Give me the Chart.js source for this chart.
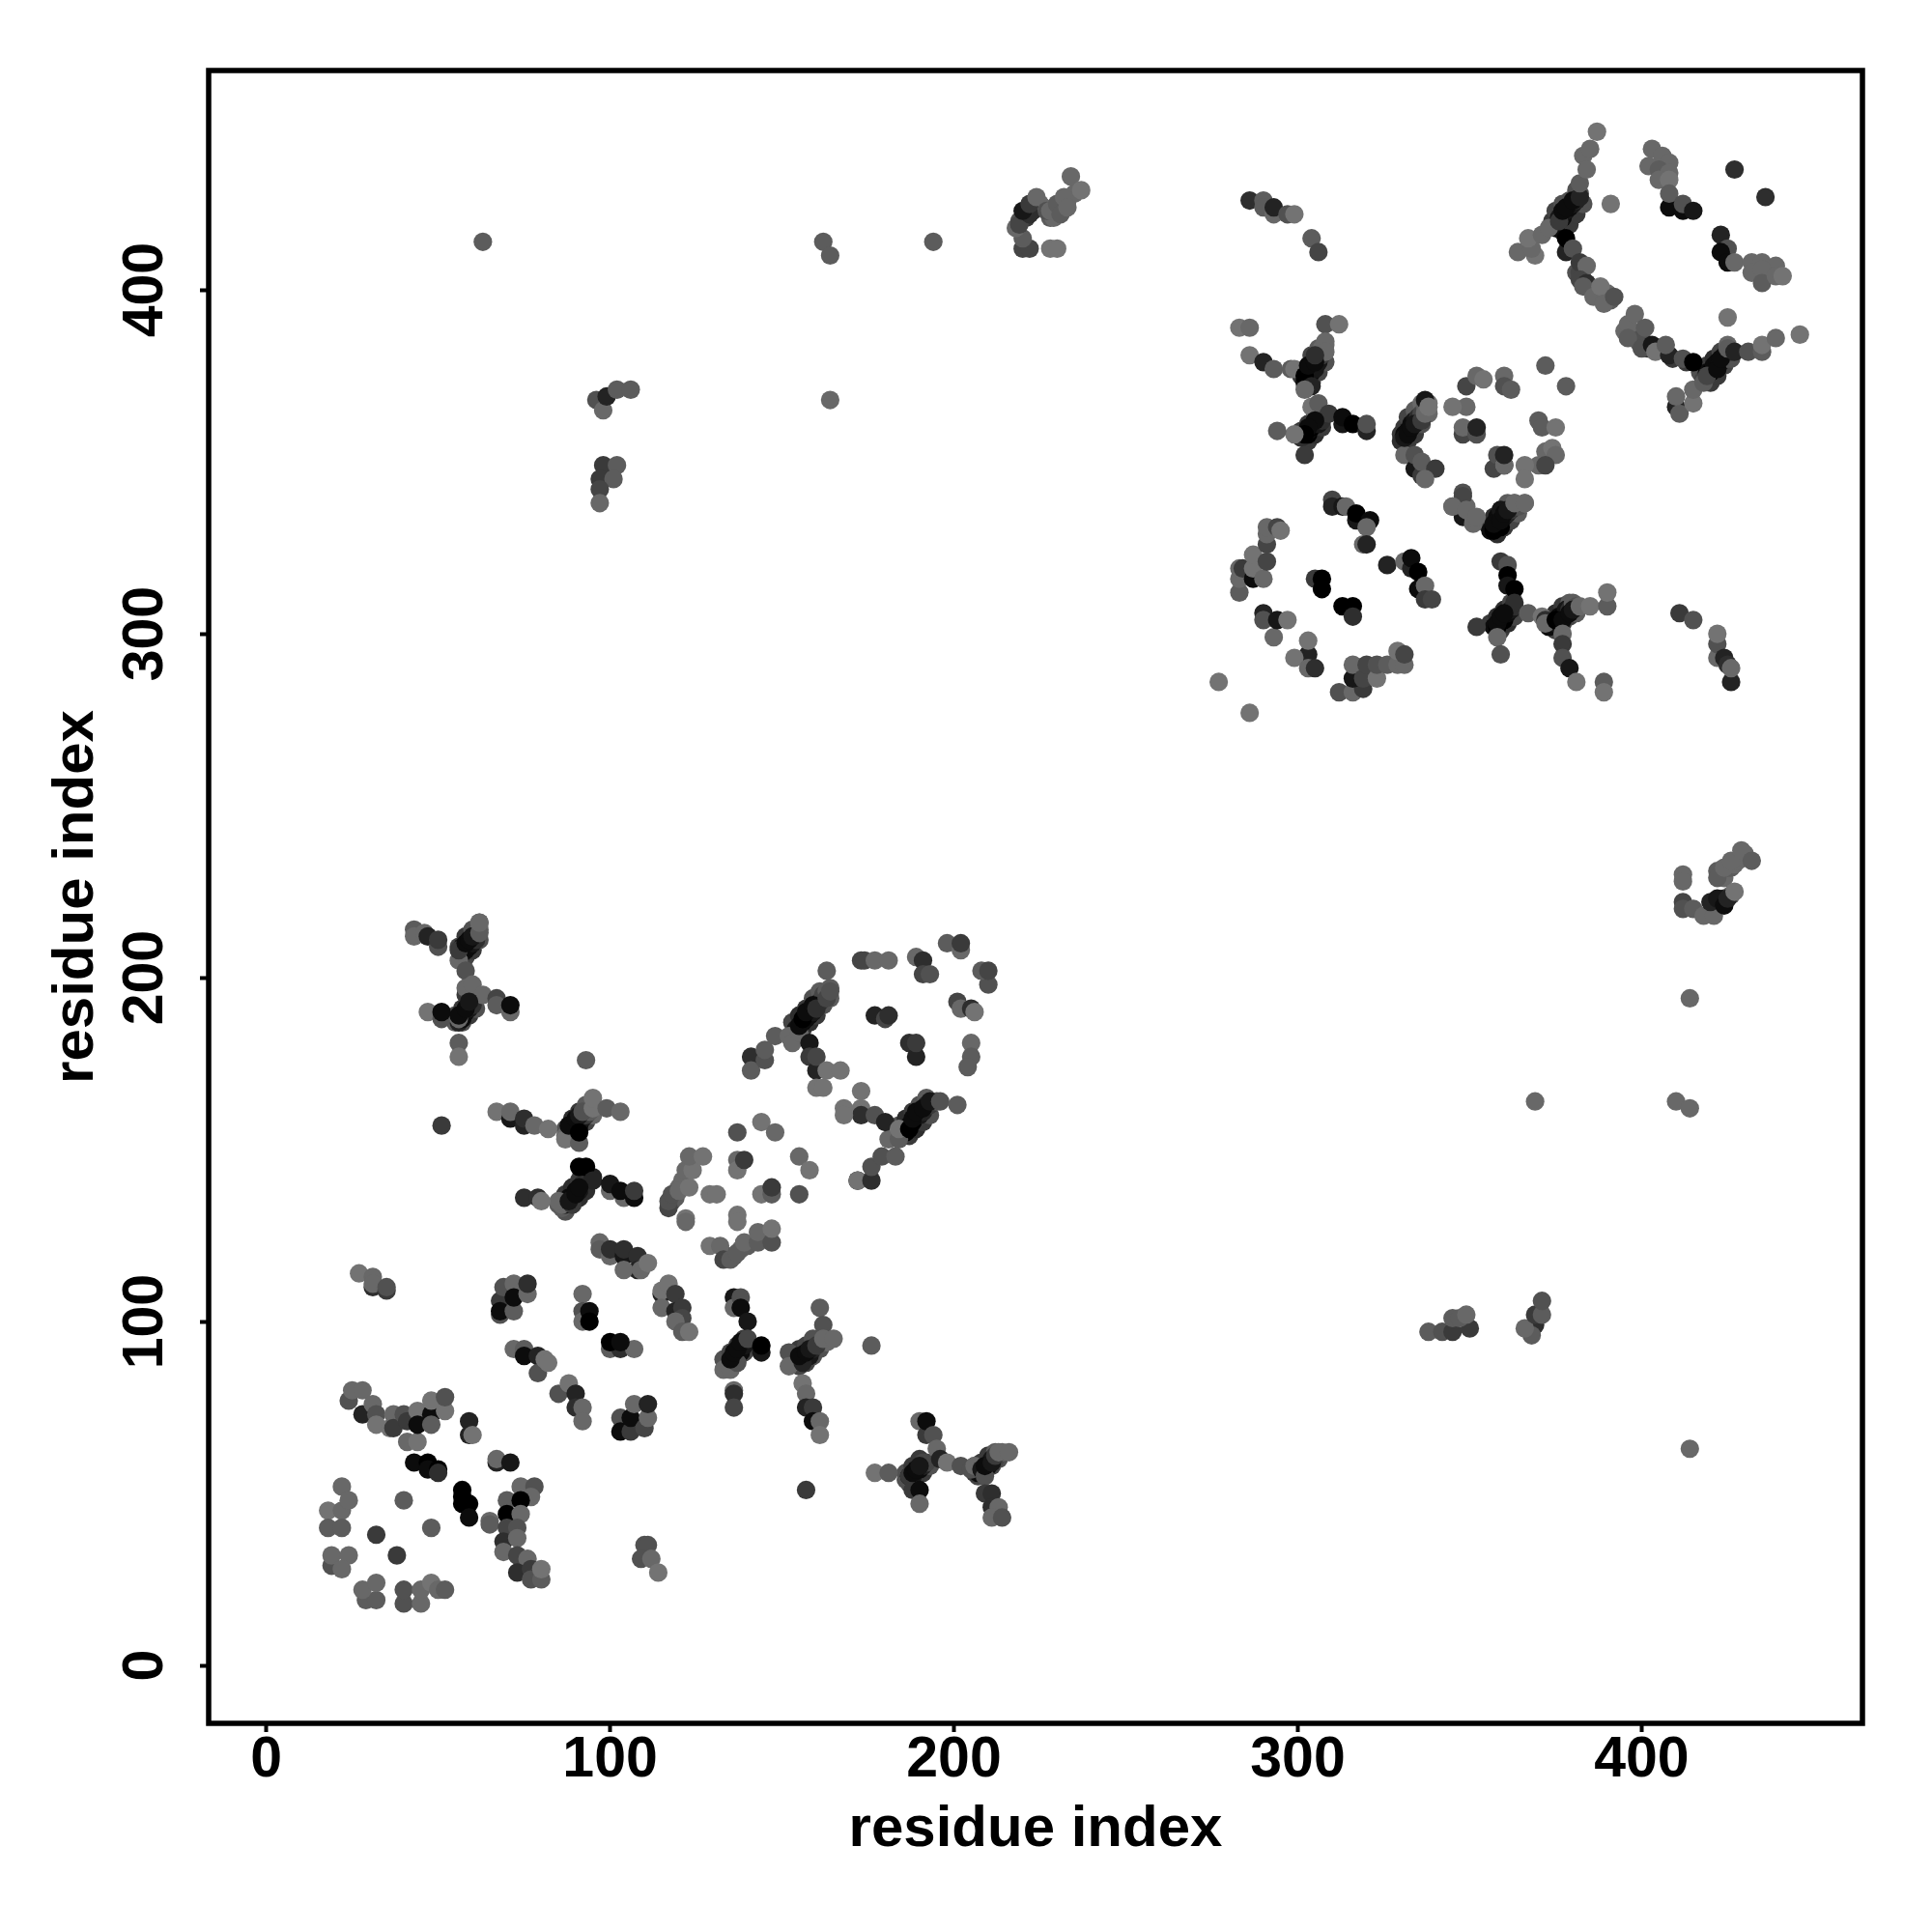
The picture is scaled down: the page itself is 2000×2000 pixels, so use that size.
<!DOCTYPE html>
<html>
<head>
<meta charset="utf-8">
<script src="https://cdn.jsdelivr.net/npm/chart.js@4"></script>
<style>html,body{margin:0;padding:0;background:#fff}canvas{display:block}</style>
</head>
<body>
<canvas id="c" width="2000" height="2000"></canvas>
<script>
// each entry: residue i, residue j, contact strength (0 weak .. 10 strong)
const tickValues = [0, 100, 200, 300, 400];
const axisTitle = "residue index";

const flankingContacts = [
[135,87,3],[137,89,3],[139,91,4],[141,93,4],[133,89,3],[135,91,4],[137,93,5],[139,95,5],
[155,87,4],[157,88,4],[159,90,3],[161,92,3],[153,90,4],[155,92,5],[157,93,4],[159,95,3],
[187,53,4],[189,55,4],[191,56,5],[193,58,3],[186,56,3],[188,58,5],[190,60,5],
[207,55,4],[209,56,5],[211,58,4],[213,60,3],[206,58,3],[208,59,5],[210,61,5],[212,62,2],
[58,206,4],[60,208,5],[62,211,3],[56,209,4],[58,212,5],[60,214,3],[62,216,1],
[57,187,3],[59,189,5],[61,191,3],[55,189,3],[57,191,5],[59,193,5],
[89,154,5],[91,156,5],[93,158,4],[95,160,1],[87,156,3],[89,159,6],[91,161,5],[93,163,2],
[87,132,3],[89,134,5],[91,136,6],[93,138,6],[85,134,2],[87,137,5],[89,139,6],[91,141,5],
[156,185,5],[158,187,6],[160,189,5],[162,192,3],[164,194,2],[153,187,4],[155,189,6],[157,191,5],[159,194,3],[161,196,2],
[187,154,5],[189,156,6],[191,158,5],[193,160,3],[184,157,3],[186,159,6],[188,161,5],[190,163,3],[192,165,2],
[304,373,5],[306,376,4],[308,379,3],[301,375,5],[303,378,4],[304,381,4],[306,383,2],
[303,356,5],[305,358,6],[307,360,5],[301,359,5],[303,361,5],[305,363,4],
[332,356,5],[334,358,5],[336,361,3],[338,364,1],[330,358,5],[331,360,5],[332,363,4],[334,365,2],[336,367,1],
[358,329,6],[360,331,5],[362,333,4],[364,335,2],[355,332,4],[357,334,6],[359,336,4],[361,338,2],
[359,301,5],[361,303,6],[363,305,4],[356,303,5],[358,305,6],[360,307,6],[362,309,4],
[375,301,4],[377,303,5],[379,305,4],[381,306,2],[373,304,3],[375,306,6],[377,308,5],[379,309,2],
[377,417,5],[379,419,5],[381,422,5],[383,425,3],[374,420,5],[375,423,4],[377,425,3],[379,426,3],[381,429,3],
[420,373,5],[422,375,5],[424,378,4],[426,380,3],[417,376,3],[419,378,5],[421,380,6],[423,382,4],[425,384,1]
];

const strandPairContacts = [
[134,87,2],[135,88,7],[136,89,8],[137,90,9],[138,91,9],[139,93,8],
[153,88,5],[154,89,9],[156,89,8],[158,90,8],[159,92,7],[161,93,3],[163,94,1],
[186,54,3],[187,55,9],[188,55,8],[190,57,9],[191,58,7],[192,59,4],
[206,56,5],[207,56,9],[208,57,9],[209,57,8],[210,58,9],[211,60,8],[212,60,4],[214,62,1],
[57,207,7],[57,209,8],[58,208,9],[59,209,9],[60,210,8],[61,211,6],[61,213,3],[62,214,1],
[55,187,2],[56,187,7],[57,188,9],[57,189,9],[58,190,9],[59,191,8],[60,192,6],
[87,154,1],[88,154,6],[89,155,9],[89,157,9],[90,158,9],[91,157,9],[92,159,8],[93,160,5],[94,161,2],
[86,133,2],[87,134,8],[88,136,9],[89,136,9],[90,138,9],[91,138,8],[92,140,6],[93,141,6],[95,142,7],
[154,185,8],[156,187,9],[157,188,9],[158,189,9],[159,190,8],[160,192,7],[161,193,6],[162,195,4],[163,196,2],[164,197,2],
[185,155,9],[186,155,10],[187,157,9],[188,158,10],[190,160,8],[191,161,7],[192,163,6],[193,163,5],[195,164,2],
[302,373,9],[303,374,10],[304,376,9],[305,377,8],[306,379,8],[307,381,5],[307,383,1],[308,384,1],
[301,357,6],[303,358,10],[303,359,9],[304,360,10],[305,361,9],[306,361,8],[307,362,6],
[330,356,6],[331,358,9],[332,359,9],[333,361,9],[334,362,8],[335,363,6],[336,364,4],[337,366,2],[338,367,0],
[356,330,9],[357,330,10],[358,332,9],[359,333,9],[360,334,8],[361,335,7],[362,336,5],[364,337,3],
[357,302,9],[358,302,10],[359,304,9],[360,304,10],[361,306,9],[362,307,8],[363,308,6],
[373,302,9],[375,303,8],[376,305,9],[377,305,10],[378,307,8],[379,307,6],[380,309,2],[381,308,3],
[375,418,9],[376,421,8],[377,421,9],[378,423,8],[379,424,9],[380,425,8],[381,426,7],[382,428,3],
[418,374,4],[419,376,9],[420,376,10],[421,378,9],[422,379,9],[423,379,8],[424,381,7],[425,380,3],[426,382,5],
[395,388,1],[397,387,1],[399,385,2],[400,386,3],[402,383,6],[405,383,3],[409,380,5],[413,379,5],
[381,405,3],[382,405,4],[383,403,3],[385,401,2],[386,400,1],[387,399,2],[388,398,1],[390,399,1],[391,397,2],
[221,421,5],[223,423,6],[225,425,1],[226,424,1],[228,421,2],[229,421,1],[231,423,2],[233,426,1],[235,428,1],
[423,231,2],[424,229,1],[425,232,2],[426,232,2],[427,233,1],[428,234,1],[429,235,1],[430,236,1],[421,220,9],[423,222,9],[424,223,7],[426,224,2],
[118,135,3],[119,136,2],[120,139,1],[121,141,1],[134,119,4],[136,119,2],[138,121,1],[140,122,2]
];

const lowerCornerContacts = [
[31,110,6],[27,114,0],[31,113,1],[31,111,1],[35,109,5],[35,110,3],
[18,45,0],[22,45,1],[22,52,1],[24,48,1],[18,40,2],[22,40,2],[19,29,3],[19,32,1],[24,32,1],[22,28,1],
[29,19,2],[32,19,2],[28,22,1],[32,24,1],[40,18,3],[40,22,3],[45,18,1],[45,22,1],[48,24,0],[50,22,1],[52,22,2],
[40,48,2],[32,38,5],[48,40,2],[38,32,5],
[43,59,9],[47,59,10],[47,57,9],[50,57,10],[50,56,6],
[57,51,10],[57,49,10],[59,47,10],[57,47,10],[59,43,9],
[59,71,7],[59,67,7],[60,67,0],[67,59,7],[67,60,1],[71,59,8],
[24,77,3],[25,80,1],[28,80,1],[28,73,7],[31,76,1],[32,73,3],[32,70,0],[36,69,0],[37,73,1],[37,69,5],[40,73,3],[41,71,5],[41,65,1],[44,65,0],[44,74,0],[44,70,9],[48,73,9],[48,70,2],[48,77,0],[52,74,0],[52,78,3],
[70,48,2],[70,44,10],[74,52,1],[78,52,3],[77,49,1],[74,48,10],[65,42,1],[65,41,2],[74,44,1],[70,40,4],[73,40,3],[69,36,6],[73,37,1],[69,33,1],[73,32,4],[76,31,1],[73,27,6],[77,28,5],[77,25,3],[80,25,2],[80,28,0],
[110,35,3],[111,35,3],[109,31,3],[112,31,1],[114,27,0]
];

const secondHelixContacts = [
[68,106,5],[69,110,3],[72,111,1],[68,102,3],[68,103,9],[72,103,2],[72,107,9],[76,108,1],[76,111,6],
[92,108,1],[92,103,3],[92,100,1],[94,103,9],[94,100,10],
[100,92,2],[103,92,6],[107,92,1],[100,94,10],[103,94,9],
[72,92,1],[75,92,2],[75,90,9],[79,90,7],[79,85,3],[81,89,0],[82,88,0],
[85,79,3],[88,82,0],[90,79,7],[90,75,6],[92,75,1],[92,71,1],
[103,72,3],[103,68,9],[106,68,5],[106,72,9],[110,69,4],[107,76,1],[111,72,1],[111,76,7],
[115,108,7],[115,109,0],[117,111,0],[115,104,1],[119,108,5],[119,103,7],[121,104,5],[121,101,4],[119,100,1],[121,97,2],[123,97,0],
[133,86,1],[135,86,1],[136,80,1],[136,79,6],[136,75,4],[136,107,8],[136,104,1],[138,107,3],[138,104,9],[140,100,8],[137,88,3],[135,89,9],[136,91,9],[137,92,9],[138,94,9],[140,95,4],[144,91,8],[144,93,10],
[152,91,3],[152,87,1],[156,88,7],[155,90,9],[157,91,9],[158,92,8],[160,93,5],[161,104,2],[162,99,3],[162,95,1],[165,95,1],
[176,93,2],[156,82,0],[157,79,1],[157,75,7],[159,75,5],[159,71,9],[161,71,1],[161,67,0],[157,51,5],[177,56,0],[181,56,2]
];

const junctionContacts = [
[190,71,1],[192,67,5],[192,71,9],[194,67,3],[195,63,1],[191,59,4],[187,55,5],[188,51,5],[190,51,9],[190,47,1],[188,56,9],[189,57,9],[190,58,8],[196,60,7],[198,59,0],
[202,58,3],[205,57,3],[206,58,1],[208,57,8],[209,55,3],[209,58,9],[211,59,8],[212,61,5],[213,62,1],[216,62,1],
[209,50,5],[211,50,6],[211,46,6],[213,46,1],[211,43,1],[214,43,3],
[43,214,2],[43,212,1],[46,213,1],[47,212,7],[50,209,3],[50,211,5],
[56,205,1],[56,208,5],[58,210,9],[59,211,9],[60,212,8],[62,213,2],[62,216,1],[58,202,3],
[58,195,5],[58,197,1],[60,198,1],[63,195,1],[67,194,4],[67,192,2],[71,190,1],[71,192,9],
[47,190,0],[51,188,3],[51,190,9],[56,188,1],[56,189,9],[58,191,9],[59,193,8],[56,181,2],[56,177,0],
[93,176,2],[51,157,5]
];

const centralRegionContacts = [
[67,161,0],[71,159,8],[71,161,1],[75,157,7],[75,159,6],[78,157,1],[82,156,0],[87,153,0],[91,152,2],[88,157,9],[90,159,9],[91,160,8],[91,155,10],[92,161,3],[95,162,0],[95,165,0],[99,162,2],[103,161,1],
[91,145,10],[93,145,10],[95,141,7],[100,138,1],[100,140,8],[104,136,1],[103,138,9],[107,136,9],[107,138,5],
[86,134,1],[85,135,1],[89,134,5],[88,135,8],[90,137,9],[91,139,9],[75,136,6],[79,136,6],[80,135,0],
[117,133,4],[117,135,3],[118,137,3],[120,138,1],[123,139,0],[122,144,1],[124,144,0],[123,148,1],[127,148,0],[122,130,0],[122,129,1],
[129,137,0],[131,137,0],[137,155,3],[144,158,0],[148,155,1],[137,147,1],[137,144,0],[139,147,5],[155,148,1],[158,144,0],[155,137,3],[144,137,0],[147,137,2],[147,139,5],[137,131,0],[137,129,0],
[129,122,0],[132,122,1],[133,118,4],[135,118,2],[137,120,2],[139,123,1],[143,123,2],[143,126,1],[147,123,3],[147,127,0],
[97,123,1],[97,121,2],[100,119,1],[100,121,6],[104,119,8],[104,121,6],[108,119,6],[108,115,7],[104,115,1],[109,115,1],[111,117,0],
[141,177,6],[141,173,2],[145,176,3],[145,179,2],[148,183,2],[152,183,1],[153,181,1],[155,184,1],[155,186,9],[156,188,10],[157,190,9],[159,192,9],[160,191,6],[163,194,4],[164,196,3],[163,202,2],
[158,181,8],[158,177,5],[160,173,7],[160,177,4],[163,173,0],[167,173,0],[160,168,0],[162,168,0],
[173,205,4],[174,205,4],[177,205,1],[181,205,1],[189,206,1],[191,205,6],[191,201,4],[193,201,3],[198,210,2],[202,208,1],[202,210,5],[210,198,3],[208,202,2],[210,202,4],
[201,193,4],[202,191,1],[205,191,6],[206,190,0],[205,181,1],[205,177,2],[204,174,2],[177,189,7],[180,188,4],[181,189,6],[187,181,6],[189,177,7],[189,181,5],
[172,141,8],[172,141,0],[176,141,6],[176,145,3],[179,148,3],[183,148,2],[181,153,1],[184,153,2],[173,167,0],[173,162,0],[173,160,6],[168,162,0],[168,160,0],[177,160,3],[180,158,7],[184,156,0],[187,156,10],[188,159,9],[189,161,9],[191,162,9],[193,164,8],[196,164,3],[201,163,2]
];

const crossDomainContacts = [
[63,414,2],[162,414,2],[164,410,2],[194,414,2],[164,368,1],
[96,368,3],[98,365,1],[99,369,7],[102,371,2],[106,371,2],
[98,349,5],[102,349,2],[97,345,5],[101,345,2],[97,342,4],[97,338,1],
[220,412,4],[222,412,4],[228,412,0],[230,412,0],[220,415,2],[218,418,1],[219,420,3],[219,419,4],[222,422,6],[220,423,8],[222,425,5],[224,427,1],[227,423,3],[228,423,1],[230,425,2],[231,422,2],[232,427,1],[233,424,1],[234,433,1],[237,429,0],
[412,230,1],[412,228,1],[412,222,4],[412,220,3],[415,220,2],[418,218,1],[421,218,1],[420,222,7],[422,223,8],[424,221,9],[425,223,7],[427,225,0],[422,231,2],[422,229,2],[424,232,1],[426,234,1],[429,237,1],[432,234,2],
[414,194,1],[414,63,1],[369,164,1],[410,164,1],[414,162,1],
[338,97,2],[342,97,3],[345,97,5],[350,98,5],[345,101,2],[347,101,2],[349,102,1],
[369,99,6],[368,96,2],[366,98,1],[369,102,5],[371,102,2],[371,106,3]
];

const upperDomainLoopContacts = [
[277,286,0],[286,277,0],
[290,306,7],[290,304,3],[293,299,1],[294,304,8],[297,304,0],[303,294,7],[303,298,0],[299,293,0],[303,290,1],[305,290,6],
[283,312,2],[283,316,1],[283,319,1],[284,319,5],[287,316,9],[287,319,0],[287,323,0],[290,316,1],[291,321,4],[291,326,4],[291,329,1],[291,331,1],[294,331,4],[295,330,0],
[305,316,5],[307,316,10],[307,313,10],[313,308,10],[316,308,10],[316,305,6],
[310,339,4],[310,337,7],[313,337,8],[314,337,1],[317,333,8],[317,335,10],[321,333,9],[320,331,1],[319,326,1],[320,326,7],
[326,320,7],[331,321,1],[333,319,7],[333,322,9],[335,313,9],[335,318,10],[337,314,1],[337,310,5],[339,310,4],
[312,283,3],[316,283,1],[319,284,5],[316,287,8],[316,291,1],[319,287,4],[320,291,4],[323,287,0],[323,291,3],[326,291,2],[329,291,1],[329,295,0],[331,291,1],[331,294,4],
[348,341,3],[345,337,1],[348,334,8],[349,337,1],[351,332,1],[351,334,1],[357,331,10],[359,331,10],[358,334,9],[359,336,8],[361,336,7],[363,338,1],[366,338,0],
[359,321,5],[361,320,3],[361,317,10],[361,314,8],[363,313,10],[363,309,6],[352,302,5],[358,303,9],[359,305,9],[360,306,9],[358,299,1],[359,294,3],
[367,306,2],[371,305,0],[372,304,6],[372,303,1],[375,304,10],[377,304,9],[379,306,9],[380,307,8],[382,308,1],[385,308,0],[390,308,2],[390,312,0],
[377,300,1],[377,297,5],[377,293,3],[379,290,8],[381,286,0],[389,286,2],[389,283,0],
[411,306,5],[415,304,3],[422,293,1],[422,297,3],[422,300,0],[424,293,7],[425,291,6],[426,286,7],[426,290,1],
[372,378,2],[378,372,2],[360,375,1],[360,372,3],[362,371,2],[349,372,4],[352,375,1],[354,374,0],[349,366,1],[345,366,0],
[348,358,4],[348,360,1],[352,358,3],[352,360,7],[370,362,2],[371,360,2],[375,360,0],[372,353,1],[374,354,0],[375,352,1],[370,349,1],[372,349,4],[366,349,0],[366,345,0],
[357,348,4],[358,352,3],[360,349,8],[360,349,1],[360,352,7],
[331,352,1],[334,348,8],[334,352,3],[336,346,5],[336,350,2],[340,348,5],[337,345,1],
[331,357,8],[332,358,9],[333,360,9],[334,361,8],[336,362,5],[337,364,1],[337,368,8],[338,366,0],
[348,340,4],[345,337,1],[349,336,1],[352,334,1],[357,332,9],[359,333,9],[360,335,9],[361,336,8],[363,338,1],[366,338,1]
];

const upperDomainJunctionContacts = [
[286,426,6],[290,426,2],[290,424,2],[293,422,1],[293,424,7],[297,422,3],[299,422,0],[304,415,2],[306,411,4],
[283,389,0],[286,389,1],[308,390,3],[312,390,0],[308,385,1],[308,382,1],
[286,381,0],[290,379,7],[293,377,2],[298,377,2],[299,377,0],[302,375,10],[303,378,9],[305,379,9],[305,381,6],[304,372,7],[302,371,1],[304,366,0],[306,367,2],
[309,364,5],[313,361,8],[313,363,9],[316,361,10],[320,359,7],[320,361,3],[305,362,9],[303,360,9],[302,358,10],[299,358,0],[294,359,2],[302,352,5]
];

const terminalDomainContacts = [
[391,425,0],[364,411,1],[369,410,0],[368,412,1],[367,415,0],[371,416,1],[373,418,1],[376,420,5],[377,423,9],[378,424,9],[380,426,9],[382,427,7],[382,431,2],
[383,439,1],[385,441,1],[387,446,0],[384,435,1],
[378,411,7],[378,415,10],[380,412,3],[382,408,5],[384,407,1],[382,403,4],[384,402,6],[383,401,2],[386,398,1],[388,401,0],[389,396,1],[392,398,3],
[396,390,1],[396,386,2],[398,393,1],[400,383,3],[401,389,2],[403,384,8],[404,382,0],[408,381,7],[407,384,2],[412,380,3],[415,379,10],
[410,366,7],[411,364,2],[410,369,1],[415,367,0],[415,371,1],[418,373,2],[419,375,4],[422,377,9],[423,380,9],[425,383,2],[427,382,7],[431,382,3],[435,382,2],[435,384,0],[439,386,1],[446,387,0],[425,392,0],
[403,441,1],[406,439,1],[408,437,1],[402,436,1],[405,435,2],[408,434,1],[405,432,1],[408,432,0],[408,424,9],[408,428,2],[412,423,9],[412,425,3],[415,423,8],
[427,435,6],[436,427,6],
[423,416,7],[425,412,3],[423,411,9],[425,408,9],[427,408,1],[432,408,1],[435,408,1],[439,407,1],[432,405,1],[435,406,1],[435,402,2],[439,404,1],[441,404,0]
];

const contacts = [
  ...flankingContacts, ...strandPairContacts, ...lowerCornerContacts, ...secondHelixContacts, ...junctionContacts, ...centralRegionContacts,
  ...crossDomainContacts, ...upperDomainLoopContacts, ...upperDomainJunctionContacts, ...terminalDomainContacts
];

function shade(strength) {
  const g = Math.round(115 - 11.5 * strength);
  return `rgb(${g},${g},${g})`;
}

const frame = {
  id: "frame",
  afterDatasetsDraw(chart) {
    const a = chart.chartArea, ctx = chart.ctx;
    ctx.save();
    ctx.strokeStyle = "#000";
    ctx.lineWidth = 5.5;
    ctx.lineJoin = "miter";
    ctx.strokeRect(a.left, a.top, a.right - a.left, a.bottom - a.top);
    ctx.restore();
  }
};

const tickFont = { family: "'Liberation Sans'", weight: "bold", size: 59 };
const titleFont = { family: "'Liberation Sans'", weight: "bold", size: 60 };
const axisGrid = { display: true, drawOnChartArea: false, drawTicks: true, tickLength: 9, tickWidth: 4, tickColor: "#000" };

new Chart(document.getElementById("c"), {
  type: "scatter",
  data: {
    datasets: [{
      data: contacts.map(c => ({ x: c[0], y: c[1] })),
      pointRadius: 9.6,
      pointHoverRadius: 9.6,
      pointBorderWidth: 0,
      pointBackgroundColor: contacts.map(c => shade(c[2])),
      showLine: false
    }]
  },
  plugins: [frame],
  options: {
    responsive: false,
    animation: false,
    devicePixelRatio: 1,
    layout: { padding: { left: 0, right: 72, top: 73, bottom: 0 } },
    plugins: { legend: { display: false }, tooltip: { enabled: false } },
    scales: {
      x: {
        type: "linear",
        min: -16.74,
        max: 464.2,
        afterFit(s) { s.height = 216; },
        afterBuildTicks(s) { s.ticks = tickValues.map(v => ({ value: v })); },
        grid: axisGrid,
        border: { display: false },
        ticks: { font: tickFont, color: "#000", padding: -6, maxRotation: 0, minRotation: 0, autoSkip: false },
        title: { display: true, text: axisTitle, color: "#000", font: titleFont, padding: { top: 0, bottom: 70 } }
      },
      y: {
        type: "linear",
        min: -16.85,
        max: 463.8,
        afterFit(s) { s.width = 216; },
        afterBuildTicks(s) { s.ticks = tickValues.map(v => ({ value: v })); },
        grid: axisGrid,
        border: { display: false },
        ticks: { font: tickFont, color: "#000", padding: 6.5, minRotation: 90, maxRotation: 90, crossAlign: "center", autoSkip: false },
        title: { display: true, text: axisTitle, color: "#000", font: titleFont, padding: { top: 43, bottom: 0 } }
      }
    }
  }
});
</script>
</body>
</html>
